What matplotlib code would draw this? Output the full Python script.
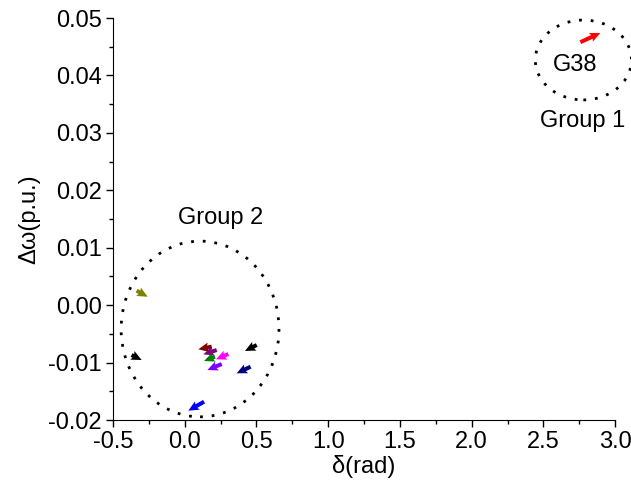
import numpy as np
import matplotlib.pyplot as plt
from matplotlib.patches import Ellipse

plt.rcParams['font.family'] = ['Liberation Sans', 'DejaVu Sans']

# generator trajectories: tail (x0, y0) -> head (x1, y1)
gens = ['G_olive', 'G_black1', 'G_darkred', 'G_purple', 'G_green',
        'G_magenta', 'G_violet', 'G_navy', 'G_black2', 'G_blue', 'G38']
x0 = [-0.335, -0.370, 0.188, 0.223, 0.211, 0.304, 0.258, 0.459, 0.502, 0.135, 2.757]
y0 = [0.00252, -0.00868, -0.00723, -0.00781, -0.00897, -0.00851, -0.01025, -0.01072, -0.00694, -0.01681, 0.0458]
x1 = [-0.258, -0.300, 0.095, 0.130, 0.135, 0.218, 0.158, 0.362, 0.420, 0.025, 2.896]
y1 = [0.00147, -0.00955, -0.00769, -0.00856, -0.00972, -0.00943, -0.01130, -0.01187, -0.00798, -0.01838, 0.0474]
colors = ['#808000', 'black', '#800000', '#800080', '#008000',
          '#FF00FF', '#8000FF', '#000080', 'black', '#0000FF', '#FF0000']

fig = plt.figure(figsize=(6.31, 4.95), dpi=100)
ax = fig.add_axes([0.179, 0.1515, 0.796, 0.812])

x0 = np.array(x0); y0 = np.array(y0)
x1 = np.array(x1); y1 = np.array(y1)
ax.quiver(x0, y0, x1 - x0, y1 - y0, color=colors, angles='xy',
          scale_units='xy', scale=1, width=0.008, headwidth=2.4,
          headlength=2.6, headaxislength=2.3)

# coherent groups
e2 = Ellipse((0.107, -0.00415), 1.10, 0.0306, fill=False, ec='black',
             lw=2, ls=(0, (1, 3.2)), clip_on=False)
e1 = Ellipse((2.778, 0.0427), 0.67, 0.0139, fill=False, ec='black',
             lw=2, ls=(0, (1, 3.2)), clip_on=False)
ax.add_patch(e2)
ax.add_patch(e1)
ax.text(2.72, 0.0418, 'G38', fontsize=17, ha='center', va='center')
ax.text(2.77, 0.0320, 'Group 1', fontsize=17, ha='center', va='center')
ax.text(0.253, 0.0152, 'Group 2', fontsize=17, ha='center', va='center')

ax.set_xlim(-0.5, 3.0)
ax.set_ylim(-0.02, 0.05)
ax.set_xticks(np.arange(-0.5, 3.01, 0.5))
ax.set_xticks(np.arange(-0.25, 3.0, 0.5), minor=True)
ax.set_yticks(np.arange(-0.02, 0.0501, 0.01))
ax.set_yticks(np.arange(-0.015, 0.05, 0.01), minor=True)
ax.set_xticklabels(['%.1f' % v for v in np.arange(-0.5, 3.01, 0.5)])
ax.set_yticklabels(['%.2f' % v for v in np.arange(-0.02, 0.0501, 0.01)])
ax.tick_params(which='major', length=5, width=1, labelsize=17, pad=3)
ax.tick_params(which='minor', length=3, width=1)
for s in ['top', 'right']:
    ax.spines[s].set_visible(False)
ax.set_xlabel('δ(rad)', fontsize=17, labelpad=1)
ax.set_ylabel('Δω(p.u.)', fontsize=17, labelpad=6)

fig.savefig('out.png', dpi=100)
